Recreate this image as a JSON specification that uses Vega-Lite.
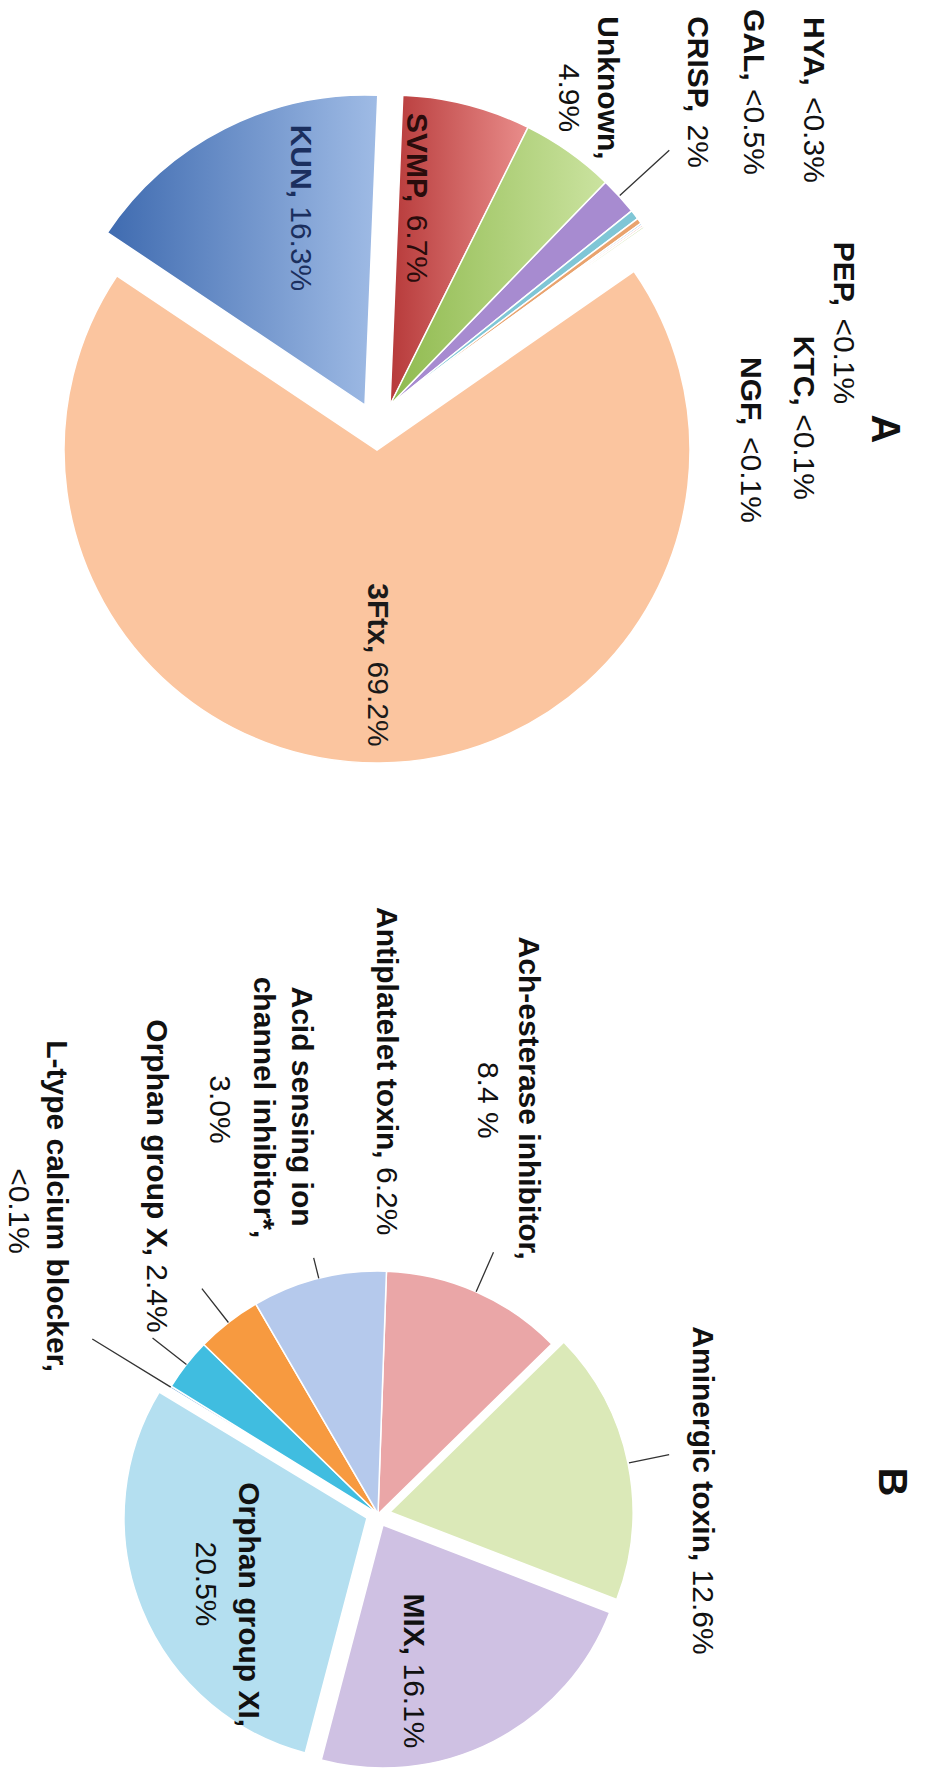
{
  "$schema": "https://vega.github.io/schema/vega-lite/v6.json",
  "padding": 0,
  "background": "white",
  "bounds": "flush",
  "spacing": 444,
  "resolve": {"scale": {"color": "independent", "theta": "independent"}},
  "config": {"view": {"stroke": null}, "text": {"font": "Liberation Sans", "fontSize": 30}, "title": {"font": "Liberation Sans"}},
  "vconcat": [
    {
      "width": 780,
      "height": 810,
      "title": {"text": "A", "orient": "right", "frame": "group", "anchor": "middle", "angle": 90, "baseline": "middle", "offset": -14, "dx": 24, "fontSize": 40, "fontWeight": "bold", "color": "#111"},
      "data": {"values": [
        {"cat": "KUN", "name": "KUN,", "val": "16.3%", "value": 16.3, "ord": 1},
        {"cat": "SVMP", "name": "SVMP,", "val": "6.7%", "value": 6.7, "ord": 2},
        {"cat": "Unknown", "name": "Unknown,", "val": "4.9%", "value": 4.9, "ord": 3},
        {"cat": "CRISP", "name": "CRISP,", "val": "2%", "value": 2, "ord": 4},
        {"cat": "GAL", "name": "GAL,", "val": "<0.5%", "value": 0.5, "ord": 5},
        {"cat": "HYA", "name": "HYA,", "val": "<0.3%", "value": 0.3, "ord": 6},
        {"cat": "PEP", "name": "PEP,", "val": "<0.1%", "value": 0.1, "ord": 7},
        {"cat": "KTC", "name": "KTC,", "val": "<0.1%", "value": 0.1, "ord": 8},
        {"cat": "NGF", "name": "NGF,", "val": "<0.1%", "value": 0.1, "ord": 9},
        {"cat": "3Ftx", "name": "3Ftx,", "val": "69.2%", "value": 69.2, "ord": 10}
      ]},
      "transform": [{"stack": "value", "groupby": [], "sort": [{"field": "ord", "order": "ascending"}], "as": ["s0", "s1"]}],
      "encoding": {
        "theta": {"field": "s0", "type": "quantitative", "scale": {"domain": [0, 100.2], "range": [5.3023, 11.5855]}},
        "color": {"field": "cat", "type": "nominal", "legend": null, "scale": {
          "domain": ["KUN", "SVMP", "Unknown", "CRISP", "GAL", "HYA", "PEP", "KTC", "NGF", "3Ftx"],
          "range": ["#6c92cc", "#d35f5d", "#aed072", "#a78bd0", "#7fc6d6", "#e9a36e", "#9fc0e4", "#e49a96", "#c4d99a", "#fbc59f"]}}
      },
      "layer": [
        {"transform": [{"filter": "datum.cat !== 'KUN' && datum.cat !== '3Ftx' && datum.cat !== 'SVMP' && datum.cat !== 'Unknown'"}],
         "mark": {"type": "arc", "outerRadius": 310, "stroke": "white", "strokeWidth": 1.5},
         "encoding": {"theta2": {"field": "s1"}}},
        {"transform": [{"filter": "datum.cat === 'SVMP'"}],
         "mark": {"type": "arc", "outerRadius": 310, "stroke": "white", "strokeWidth": 1.5},
         "encoding": {"theta2": {"field": "s1"}, "fill": {"value": {"gradient": "linear", "x1": 0, "y1": 0, "x2": 1, "y2": 0, "stops": [{"offset": 0, "color": "#b73a3a"}, {"offset": 1, "color": "#e98d8b"}]}}}},
        {"transform": [{"filter": "datum.cat === 'Unknown'"}],
         "mark": {"type": "arc", "outerRadius": 310, "stroke": "white", "strokeWidth": 1.5},
         "encoding": {"theta2": {"field": "s1"}, "fill": {"value": {"gradient": "linear", "x1": 0, "y1": 0, "x2": 1, "y2": 0, "stops": [{"offset": 0, "color": "#8fba4e"}, {"offset": 1, "color": "#cbe3a0"}]}}}},
        {"transform": [{"filter": "datum.cat === 'KUN'"}],
         "mark": {"type": "arc", "outerRadius": 310, "xOffset": -25, "yOffset": 0, "stroke": "white", "strokeWidth": 1.5},
         "encoding": {"theta2": {"field": "s1"}, "fill": {"value": {"gradient": "linear", "x1": 0, "y1": 0, "x2": 1, "y2": 0, "stops": [{"offset": 0, "color": "#3f6bb0"}, {"offset": 1, "color": "#9fbbe5"}]}}}},
        {"transform": [{"filter": "datum.cat === '3Ftx'"}],
         "mark": {"type": "arc", "outerRadius": 313, "xOffset": -13, "yOffset": 45, "stroke": "white", "strokeWidth": 1.5},
         "encoding": {"theta2": {"field": "s1"}}},
        {"transform": [{"filter": "datum.cat === 'CRISP'"}],
         "mark": {"type": "arc", "innerRadius": 311, "outerRadius": 378, "padAngle": 0.4, "filled": false, "strokeWidth": 1.3},
         "encoding": {"theta2": {"field": "s1"}, "color": {"value": "#333"}}},

        {"transform": [{"filter": "datum.cat === 'KUN'"}],
         "mark": {"type": "text", "radius": 193.1, "angle": 90, "align": "left", "baseline": "middle", "dx": -87.4, "dy": 98.0, "fontWeight": "bold"},
         "encoding": {"theta": {"field": "s1", "type": "quantitative"}, "text": {"field": "name"}, "color": {"value": "#1b2f5e"}}},
        {"transform": [{"filter": "datum.cat === 'KUN'"}],
         "mark": {"type": "text", "radius": 193.1, "angle": 90, "align": "right", "baseline": "middle", "dx": 79.25, "dy": 98.0},
         "encoding": {"theta": {"field": "s1", "type": "quantitative"}, "text": {"field": "val"}, "color": {"value": "#1b2f5e"}}},

        {"transform": [{"filter": "datum.cat === 'SVMP'"}],
         "mark": {"type": "text", "radius": 207.9, "angle": 90, "align": "left", "baseline": "middle", "dx": -84.35, "dy": -17.4, "fontWeight": "bold"},
         "encoding": {"text": {"field": "name"}, "color": {"value": "#2a0c0c"}}},
        {"transform": [{"filter": "datum.cat === 'SVMP'"}],
         "mark": {"type": "text", "radius": 207.9, "angle": 90, "align": "right", "baseline": "middle", "dx": 85.75, "dy": -17.4},
         "encoding": {"text": {"field": "val"}, "color": {"value": "#2a0c0c"}}},

        {"transform": [{"filter": "datum.cat === 'Unknown'"}],
         "mark": {"type": "text", "radius": 380.5, "angle": 90, "align": "center", "baseline": "middle", "dx": 23.7, "dy": -47.6, "fontWeight": "bold"},
         "encoding": {"text": {"field": "name"}, "color": {"value": "#111"}}},
        {"transform": [{"filter": "datum.cat === 'Unknown'"}],
         "mark": {"type": "text", "radius": 380.5, "angle": 90, "align": "center", "baseline": "middle", "dx": 33.7, "dy": -8.6},
         "encoding": {"text": {"field": "val"}, "color": {"value": "#111"}}},

        {"transform": [{"filter": "datum.cat === 'CRISP'"}],
         "mark": {"type": "text", "radius": 438.4, "angle": 90, "align": "left", "baseline": "middle", "dx": -73.65, "dy": -2.3, "fontWeight": "bold"},
         "encoding": {"text": {"field": "name"}, "color": {"value": "#111"}}},
        {"transform": [{"filter": "datum.cat === 'CRISP'"}],
         "mark": {"type": "text", "radius": 438.4, "angle": 90, "align": "right", "baseline": "middle", "dx": 78.05, "dy": -2.3},
         "encoding": {"text": {"field": "val"}, "color": {"value": "#111"}}},

        {"transform": [{"filter": "datum.cat === 'GAL'"}],
         "mark": {"type": "text", "radius": 479.0, "angle": 90, "align": "left", "baseline": "middle", "dx": -95.95, "dy": 10.5, "fontWeight": "bold"},
         "encoding": {"text": {"field": "name"}, "color": {"value": "#111"}}},
        {"transform": [{"filter": "datum.cat === 'GAL'"}],
         "mark": {"type": "text", "radius": 479.0, "angle": 90, "align": "right", "baseline": "middle", "dx": 69.95, "dy": 10.5},
         "encoding": {"text": {"field": "val"}, "color": {"value": "#111"}}},

        {"transform": [{"filter": "datum.cat === 'HYA'"}],
         "mark": {"type": "text", "radius": 521.4, "angle": 90, "align": "left", "baseline": "middle", "dx": -74.45, "dy": -6.4, "fontWeight": "bold"},
         "encoding": {"text": {"field": "name"}, "color": {"value": "#111"}}},
        {"transform": [{"filter": "datum.cat === 'HYA'"}],
         "mark": {"type": "text", "radius": 521.4, "angle": 90, "align": "right", "baseline": "middle", "dx": 91.45, "dy": -6.4},
         "encoding": {"text": {"field": "val"}, "color": {"value": "#111"}}},

        {"transform": [{"filter": "datum.cat === 'PEP'"}],
         "mark": {"type": "text", "radius": 415.1, "angle": 90, "align": "left", "baseline": "middle", "dx": 80.1, "dy": -116.7, "fontWeight": "bold"},
         "encoding": {"text": {"field": "name"}, "color": {"value": "#111"}}},
        {"transform": [{"filter": "datum.cat === 'PEP'"}],
         "mark": {"type": "text", "radius": 415.1, "angle": 90, "align": "right", "baseline": "middle", "dx": 242.7, "dy": -116.7},
         "encoding": {"text": {"field": "val"}, "color": {"value": "#111"}}},

        {"transform": [{"filter": "datum.cat === 'KTC'"}],
         "mark": {"type": "text", "radius": 328.5, "angle": 90, "align": "left", "baseline": "middle", "dx": 121.8, "dy": -145.7, "fontWeight": "bold"},
         "encoding": {"text": {"field": "name"}, "color": {"value": "#111"}}},
        {"transform": [{"filter": "datum.cat === 'KTC'"}],
         "mark": {"type": "text", "radius": 328.5, "angle": 90, "align": "right", "baseline": "middle", "dx": 286.0, "dy": -145.7},
         "encoding": {"text": {"field": "val"}, "color": {"value": "#111"}}},

        {"transform": [{"filter": "datum.cat === 'NGF'"}],
         "mark": {"type": "text", "radius": 274.1, "angle": 90, "align": "left", "baseline": "middle", "dx": 109.95, "dy": -136.0, "fontWeight": "bold"},
         "encoding": {"text": {"field": "name"}, "color": {"value": "#111"}}},
        {"transform": [{"filter": "datum.cat === 'NGF'"}],
         "mark": {"type": "text", "radius": 274.1, "angle": 90, "align": "right", "baseline": "middle", "dx": 275.85, "dy": -136.0},
         "encoding": {"text": {"field": "val"}, "color": {"value": "#111"}}},

        {"transform": [{"filter": "datum.cat === '3Ftx'"}],
         "mark": {"type": "text", "radius": 0, "angle": 90, "align": "left", "baseline": "middle", "dx": 178.3, "dy": 13, "fontWeight": "bold"},
         "encoding": {"text": {"field": "name"}, "color": {"value": "#1a1a1a"}}},
        {"transform": [{"filter": "datum.cat === '3Ftx'"}],
         "mark": {"type": "text", "radius": 0, "angle": 90, "align": "right", "baseline": "middle", "dx": 341.7, "dy": 13},
         "encoding": {"text": {"field": "val"}, "color": {"value": "#1a1a1a"}}}
      ]
    },
    {
      "width": 756,
      "height": 520,
      "title": {"text": "B", "orient": "right", "frame": "group", "anchor": "middle", "angle": 90, "baseline": "middle", "offset": 95, "dx": -32, "fontSize": 40, "fontWeight": "bold", "color": "#111"},
      "data": {"values": [
        {"cat": "Ach", "name": "Ach-esterase inhibitor,", "val": "8.4 %", "value": 8.4, "ord": 1},
        {"cat": "Aminergic", "name": "Aminergic toxin,", "val": "12.6%", "value": 12.6, "ord": 2},
        {"cat": "MIX", "name": "MIX,", "val": "16.1%", "value": 16.1, "ord": 3},
        {"cat": "OrphanXI", "name": "Orphan group XI,", "val": "20.5%", "value": 20.5, "ord": 4},
        {"cat": "Ltype", "name": "L-type calcium blocker,", "val": "<0.1%", "value": 0.1, "ord": 5},
        {"cat": "OrphanX", "name": "Orphan group X,", "val": "2.4%", "value": 2.4, "ord": 6},
        {"cat": "Acid", "name": "Acid sensing ion", "name2": "channel inhibitor*,", "val": "3.0%", "value": 3.0, "ord": 7},
        {"cat": "Antiplatelet", "name": "Antiplatelet toxin,", "val": "6.2%", "value": 6.2, "ord": 8}
      ]},
      "transform": [{"stack": "value", "groupby": [], "sort": [{"field": "ord", "order": "ascending"}], "as": ["s0", "s1"]}],
      "encoding": {
        "theta": {"field": "s0", "type": "quantitative", "scale": {"domain": [0, 69.3], "range": [0.0349, 6.3181]}},
        "color": {"field": "cat", "type": "nominal", "legend": null, "scale": {
          "domain": ["Ach", "Aminergic", "MIX", "OrphanXI", "Ltype", "OrphanX", "Acid", "Antiplatelet"],
          "range": ["#eaa6a7", "#dbe9b8", "#cfc1e3", "#b4dff0", "#8db7e0", "#40bde0", "#f79a40", "#b5c9ec"]}}
      },
      "layer": [
        {"transform": [{"filter": "datum.cat !== 'Aminergic' && datum.cat !== 'MIX' && datum.cat !== 'OrphanXI'"}],
         "mark": {"type": "arc", "outerRadius": 243, "stroke": "white", "strokeWidth": 1.5},
         "encoding": {"theta2": {"field": "s1"}}},
        {"transform": [{"filter": "datum.cat === 'Aminergic'"}],
         "mark": {"type": "arc", "outerRadius": 243, "xOffset": 12, "yOffset": -2, "stroke": "white", "strokeWidth": 1.5},
         "encoding": {"theta2": {"field": "s1"}}},
        {"transform": [{"filter": "datum.cat === 'MIX'"}],
         "mark": {"type": "arc", "outerRadius": 243, "xOffset": 5, "yOffset": 11, "stroke": "white", "strokeWidth": 1.5},
         "encoding": {"theta2": {"field": "s1"}}},
        {"transform": [{"filter": "datum.cat === 'OrphanXI'"}],
         "mark": {"type": "arc", "outerRadius": 243, "xOffset": -11, "yOffset": 4, "stroke": "white", "strokeWidth": 1.5},
         "encoding": {"theta2": {"field": "s1"}}},

        {"transform": [{"filter": "datum.cat === 'Ach' || datum.cat === 'Acid' || datum.cat === 'OrphanX'"}],
         "mark": {"type": "arc", "innerRadius": 243, "outerRadius": 286, "padAngle": 1.0, "filled": false, "strokeWidth": 1.3},
         "encoding": {"theta2": {"field": "s1"}, "color": {"value": "#333"}}},
        {"transform": [{"filter": "datum.cat === 'Aminergic'"}],
         "mark": {"type": "arc", "innerRadius": 244, "outerRadius": 285, "padAngle": 1.0, "xOffset": 12, "yOffset": -2, "filled": false, "strokeWidth": 1.3},
         "encoding": {"theta2": {"field": "s1"}, "color": {"value": "#333"}}},
        {"transform": [{"filter": "datum.cat === 'Antiplatelet'"}],
         "mark": {"type": "arc", "innerRadius": 243, "outerRadius": 264, "padAngle": 1.0, "filled": false, "strokeWidth": 1.3},
         "encoding": {"theta2": {"field": "s1"}, "color": {"value": "#333"}}},
        {"transform": [{"filter": "datum.cat === 'Ltype'"}],
         "mark": {"type": "arc", "innerRadius": 243, "outerRadius": 335, "padAngle": 1.0, "filled": false, "strokeWidth": 1.3},
         "encoding": {"theta2": {"field": "s1"}, "color": {"value": "#333"}}},

        {"transform": [{"filter": "datum.cat === 'Ach'"}],
         "mark": {"type": "text", "radius": 410.0, "angle": 90, "align": "center", "baseline": "middle", "dx": -6.0, "dy": -135.7, "fontWeight": "bold"},
         "encoding": {"text": {"field": "name"}, "color": {"value": "#111"}}},
        {"transform": [{"filter": "datum.cat === 'Ach'"}],
         "mark": {"type": "text", "radius": 410.0, "angle": 90, "align": "center", "baseline": "middle", "dx": -4.0, "dy": -94.7},
         "encoding": {"text": {"field": "val"}, "color": {"value": "#111"}}},

        {"transform": [{"filter": "datum.cat === 'Aminergic'"}],
         "mark": {"type": "text", "radius": 292.6, "angle": 90, "align": "left", "baseline": "middle", "dx": -293.0, "dy": -51.0, "fontWeight": "bold"},
         "encoding": {"theta": {"field": "s1", "type": "quantitative"}, "text": {"field": "name"}, "color": {"value": "#111"}}},
        {"transform": [{"filter": "datum.cat === 'Aminergic'"}],
         "mark": {"type": "text", "radius": 292.6, "angle": 90, "align": "right", "baseline": "middle", "dx": 35.4, "dy": -51.0},
         "encoding": {"theta": {"field": "s1", "type": "quantitative"}, "text": {"field": "val"}, "color": {"value": "#111"}}},

        {"transform": [{"filter": "datum.cat === 'MIX'"}],
         "mark": {"type": "text", "radius": 133.3, "angle": 90, "align": "left", "baseline": "middle", "dx": -49.4, "dy": -68.9, "fontWeight": "bold"},
         "encoding": {"theta": {"field": "s1", "type": "quantitative"}, "text": {"field": "name"}, "color": {"value": "#111"}}},
        {"transform": [{"filter": "datum.cat === 'MIX'"}],
         "mark": {"type": "text", "radius": 133.3, "angle": 90, "align": "right", "baseline": "middle", "dx": 105.6, "dy": -68.9},
         "encoding": {"theta": {"field": "s1", "type": "quantitative"}, "text": {"field": "val"}, "color": {"value": "#111"}}},

        {"transform": [{"filter": "datum.cat === 'OrphanXI'"}],
         "mark": {"type": "text", "radius": 113.4, "angle": 90, "align": "center", "baseline": "middle", "dx": -19.0, "dy": 101.2, "fontWeight": "bold"},
         "encoding": {"text": {"field": "name"}, "color": {"value": "#111"}}},
        {"transform": [{"filter": "datum.cat === 'OrphanXI'"}],
         "mark": {"type": "text", "radius": 113.4, "angle": 90, "align": "center", "baseline": "middle", "dx": -39.7, "dy": 144.2},
         "encoding": {"text": {"field": "val"}, "color": {"value": "#111"}}},

        {"transform": [{"filter": "datum.cat === 'Ltype'"}],
         "mark": {"type": "text", "radius": 432.1, "angle": 90, "align": "center", "baseline": "middle", "dx": -80.6, "dy": -45.5, "fontWeight": "bold"},
         "encoding": {"theta": {"field": "s1", "type": "quantitative"}, "text": {"field": "name"}, "color": {"value": "#111"}}},
        {"transform": [{"filter": "datum.cat === 'Ltype'"}],
         "mark": {"type": "text", "radius": 432.1, "angle": 90, "align": "center", "baseline": "middle", "dx": -75.6, "dy": -7.5},
         "encoding": {"theta": {"field": "s1", "type": "quantitative"}, "text": {"field": "val"}, "color": {"value": "#111"}}},

        {"transform": [{"filter": "datum.cat === 'OrphanX'"}],
         "mark": {"type": "text", "radius": 389.2, "angle": 90, "align": "left", "baseline": "middle", "dx": -223.3, "dy": -57.0, "fontWeight": "bold"},
         "encoding": {"theta": {"field": "s1", "type": "quantitative"}, "text": {"field": "name"}, "color": {"value": "#111"}}},
        {"transform": [{"filter": "datum.cat === 'OrphanX'"}],
         "mark": {"type": "text", "radius": 389.2, "angle": 90, "align": "right", "baseline": "middle", "dx": 90.1, "dy": -57.0},
         "encoding": {"theta": {"field": "s1", "type": "quantitative"}, "text": {"field": "val"}, "color": {"value": "#111"}}},

        {"transform": [{"filter": "datum.cat === 'Acid'"}],
         "mark": {"type": "text", "radius": 400.1, "angle": 90, "align": "center", "baseline": "middle", "dx": -61.7, "dy": -124.3, "fontWeight": "bold"},
         "encoding": {"theta": {"field": "s1", "type": "quantitative"}, "text": {"field": "name"}, "color": {"value": "#111"}}},
        {"transform": [{"filter": "datum.cat === 'Acid'"}],
         "mark": {"type": "text", "radius": 400.1, "angle": 90, "align": "center", "baseline": "middle", "dx": -60.7, "dy": -86.3, "fontWeight": "bold"},
         "encoding": {"theta": {"field": "s1", "type": "quantitative"}, "text": {"field": "name2"}, "color": {"value": "#111"}}},
        {"transform": [{"filter": "datum.cat === 'Acid'"}],
         "mark": {"type": "text", "radius": 400.1, "angle": 90, "align": "center", "baseline": "middle", "dx": -58.7, "dy": -42.3},
         "encoding": {"theta": {"field": "s1", "type": "quantitative"}, "text": {"field": "val"}, "color": {"value": "#111"}}},

        {"transform": [{"filter": "datum.cat === 'Antiplatelet'"}],
         "mark": {"type": "text", "radius": 431.0, "angle": 90, "align": "left", "baseline": "middle", "dx": -176.3, "dy": 7.0, "fontWeight": "bold"},
         "encoding": {"theta": {"field": "s1", "type": "quantitative"}, "text": {"field": "name"}, "color": {"value": "#111"}}},
        {"transform": [{"filter": "datum.cat === 'Antiplatelet'"}],
         "mark": {"type": "text", "radius": 431.0, "angle": 90, "align": "right", "baseline": "middle", "dx": 152.1, "dy": 7.0},
         "encoding": {"theta": {"field": "s1", "type": "quantitative"}, "text": {"field": "val"}, "color": {"value": "#111"}}}
      ]
    }
  ]
}
